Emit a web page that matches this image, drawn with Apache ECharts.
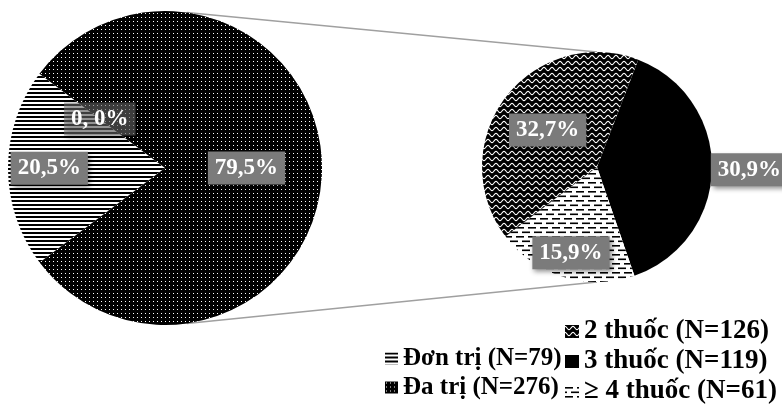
<!DOCTYPE html>
<html>
<head>
<meta charset="utf-8">
<script src="https://cdn.jsdelivr.net/npm/echarts@6/dist/echarts.min.js"></script>
<style>
  html, body { margin: 0; padding: 0; background: #fff; }
  #main { width: 782px; height: 415px; }
</style>
</head>
<body>
<div id="main"></div>
<script>
// du lieu bieu do chinh (don tri / da tri = tong bieu do phu)
var mainNames = ['Đơn trị (N=79)', 'zero', 'Đa trị (N=276)'];
var mainValues = [79, 0, 306];
var mainLabels = ['20,5%', '0, 0%', '79,5%'];

// du lieu bieu do phu (so thuoc trong da tri)
var subNames = ['3 thuốc (N=119)', '≥ 4 thuốc (N=61)', '2 thuốc (N=126)'];
var subValues = [119, 61, 126];
var subLabels = ['30,9%', '15,9%', '32,7%'];

// thu tu chu giai
var legendMain = ['Đơn trị (N=79)', 'Đa trị (N=276)'];
var legendSub = ['2 thuốc (N=126)', '3 thuốc (N=119)', '≥ 4 thuốc (N=61)'];

// vi tri nhan theo ban kinh (ti le)
var mainLabelR = [0.71, 0.5, 0.5];
var subLabelR = [1.26, 0.74, 0.51];

var c1 = [165, 168], r1 = 157;
var c2 = [597, 167], r2 = 115;
var serif = '"Liberation Serif", "Times New Roman", serif';

// tao hoa van
function makePattern(w, h, draw) {
  var cv = document.createElement('canvas');
  cv.width = w; cv.height = h;
  var ctx = cv.getContext('2d');
  draw(ctx, w, h);
  return { image: cv, repeat: 'repeat' };
}
var dots = makePattern(4, 4, function(ctx){
  ctx.fillStyle = '#000'; ctx.fillRect(0, 0, 4, 4);
  ctx.fillStyle = '#fff'; ctx.fillRect(1, 1, 1, 1);
});
var hlines = makePattern(4, 4, function(ctx){
  ctx.fillStyle = '#fff'; ctx.fillRect(0, 0, 4, 4);
  ctx.fillStyle = '#000'; ctx.fillRect(0, 0, 4, 2);
});
var wave = makePattern(8, 6, function(ctx){
  ctx.fillStyle = '#000'; ctx.fillRect(0, 0, 8, 6);
  ctx.strokeStyle = '#fff'; ctx.lineWidth = 1.1;
  ctx.beginPath();
  for (var x = 0; x <= 8; x += 0.5) {
    var y = 3 - 1.6 * Math.cos(2 * Math.PI * x / 8);
    if (x === 0) ctx.moveTo(x, y); else ctx.lineTo(x, y);
  }
  ctx.stroke();
});
var dashes = makePattern(12, 9, function(ctx){
  ctx.fillStyle = '#fff'; ctx.fillRect(0, 0, 12, 9);
  ctx.fillStyle = '#000';
  ctx.fillRect(0, 2, 8, 1.6);
  ctx.fillRect(6, 6.5, 6, 1.6);
  ctx.fillRect(0, 6.5, 2, 1.6);
});

var mainColors = [hlines, 'transparent', dots];
var subColors = ['#000', dashes, wave];

var labelBase = {
  show: true,
  position: 'inside',
  color: '#fff',
  fontFamily: serif,
  fontWeight: 'bold',
  fontSize: 23,
  backgroundColor: '#7b7b7b',
  padding: [6, 7, 4, 7],
  shadowColor: 'rgba(0,0,0,0.45)',
  shadowBlur: 5,
  shadowOffsetX: 2,
  shadowOffsetY: 3
};

function buildData(names, values, colors, extra) {
  var out = [];
  for (var i = 0; i < names.length; i++) {
    var d = { name: names[i], value: values[i], itemStyle: { color: colors[i] } };
    if (extra && extra[i]) d.label = extra[i];
    out.push(d);
  }
  return out;
}

// day nhan ra xa / vao gan tam
function radialShift(center, ratios) {
  return function(p) {
    var lr = p.labelRect;
    var lx = lr.x + lr.width / 2, ly = lr.y + lr.height / 2;
    var k = ratios[p.dataIndex] / 0.5 - 1;
    return { dx: k * (lx - center[0]), dy: k * (ly - center[1]) };
  };
}

var chart = echarts.init(document.getElementById('main'));
var a1 = 82 * Math.PI / 180;
var option = {
  animation: false,
  legend: [{
    data: legendMain,
    orient: 'vertical',
    left: 380, top: 341,
    icon: 'rect',
    itemWidth: 13, itemHeight: 12,
    itemGap: 4,
    selectedMode: false,
    textStyle: { fontFamily: serif, fontWeight: 'bold', fontSize: 25, color: '#000' }
  }, {
    data: legendSub,
    orient: 'vertical',
    left: 560, top: 313,
    icon: 'rect',
    itemWidth: 14, itemHeight: 13,
    itemGap: 3,
    selectedMode: false,
    textStyle: { fontFamily: serif, fontWeight: 'bold', fontSize: 27, color: '#000' }
  }],
  graphic: [{
    type: 'line', z: -1,
    shape: { x1: c1[0] + r1 * Math.cos(a1), y1: c1[1] - r1 * Math.sin(a1), x2: c2[0], y2: c2[1] - r2 },
    style: { stroke: '#a0a0a0', lineWidth: 1.5 }
  }, {
    type: 'line', z: -1,
    shape: { x1: c1[0] + r1 * Math.cos(a1), y1: c1[1] + r1 * Math.sin(a1), x2: c2[0], y2: c2[1] + r2 },
    style: { stroke: '#a0a0a0', lineWidth: 1.5 }
  }],
  series: [{
    type: 'pie',
    center: c1,
    radius: r1,
    startAngle: 217,
    clockwise: true,
    avoidLabelOverlap: false,
    silent: true,
    label: Object.assign({}, labelBase, {
      formatter: function(p){ return mainLabels[p.dataIndex]; }
    }),
    labelLine: { show: false },
    labelLayout: radialShift(c1, mainLabelR),
    data: buildData(mainNames, mainValues, mainColors, [null, { backgroundColor: 'rgba(110,110,110,0.55)' }, null])
  }, {
    type: 'pie',
    center: c2,
    radius: r2,
    startAngle: 69,
    clockwise: true,
    avoidLabelOverlap: false,
    silent: true,
    label: Object.assign({}, labelBase, {
      formatter: function(p){ return subLabels[p.dataIndex]; }
    }),
    labelLine: { show: false },
    labelLayout: radialShift(c2, subLabelR),
    data: buildData(subNames, subValues, subColors)
  }]
};
chart.setOption(option);
</script>
</body>
</html>
